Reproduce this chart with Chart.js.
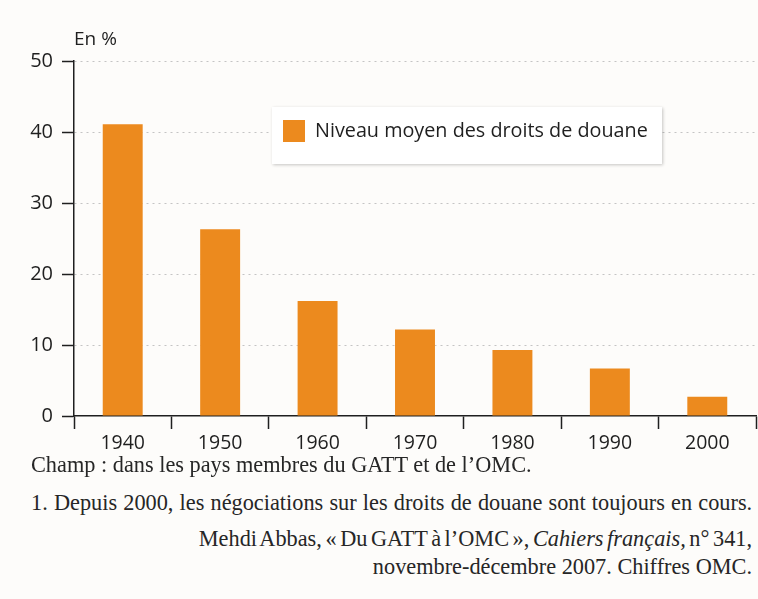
<!DOCTYPE html>
<html lang="fr">
<head>
<meta charset="utf-8">
<title>Niveau moyen des droits de douane</title>
<script src="https://cdn.jsdelivr.net/npm/chart.js@4/dist/chart.umd.min.js"></script>
<style>
    body {
        margin: 0;
        background: #fdfcfa;
        width: 758px;
        height: 599px;
        position: relative;
        overflow: hidden;
    }
    .chart-box {
        position: absolute;
        left: 0;
        top: 0;
        width: 758px;
        height: 458px;
    }
    .note {
        position: absolute;
        font-family: "Liberation Serif", "DejaVu Serif", serif;
        font-size: 22.3px;
        line-height: 24px;
        color: #262626;
        white-space: nowrap;
    }
    .left { left: 31px; }
    .right { right: 6px; text-align: right; }
</style>
</head>
<body>
<div class="chart-box"><canvas id="tarifChart"></canvas></div>

<div class="note left" style="top:453px">Champ : dans les pays membres du GATT et de l’OMC.</div>
<div class="note left" style="top:491px; word-spacing:0.6px">1. Depuis 2000, les négociations sur les droits de douane sont toujours en cours.</div>
<div class="note right" style="top:527px; word-spacing:-2px">Mehdi Abbas, « Du GATT à l’OMC », <i>Cahiers français,</i> n° 341,</div>
<div class="note right" style="top:555px">novembre-décembre 2007. Chiffres OMC.</div>

<script>
// data
const years = ['1940', '1950', '1960', '1970', '1980', '1990', '2000'];
const tariffs = [41.1, 26.3, 16.2, 12.2, 9.3, 6.7, 2.7];
const yTicks = [0, 10, 20, 30, 40, 50];
const seriesLabel = 'Niveau moyen des droits de douane';
const unitLabel = 'En %';

const orange = '#ec8a1e';
const axisColor = '#1f1f1f';

// draws the "En %" label and the boxed legend inside the plot
const extras = {
    id: 'extras',
    afterDatasetsDraw(chart) {
        const ctx = chart.ctx;
        const area = chart.chartArea;
        ctx.save();

        // unit label above the y axis
        ctx.font = '19px "Open Sans"';
        ctx.fillStyle = axisColor;
        ctx.textBaseline = 'alphabetic';
        ctx.fillText(unitLabel, area.left, area.top - 16);

        // legend box
        const bx = area.left + 198, by = area.top + 46, bw = 390, bh = 57;
        ctx.shadowColor = 'rgba(0,0,0,0.22)';
        ctx.shadowBlur = 3;
        ctx.shadowOffsetX = 1;
        ctx.shadowOffsetY = 1;
        ctx.fillStyle = '#ffffff';
        ctx.fillRect(bx, by, bw, bh);
        ctx.shadowColor = 'transparent';

        ctx.fillStyle = orange;
        ctx.fillRect(bx + 11, by + 13, 22, 22);

        ctx.font = '19.8px "Open Sans"';
        ctx.fillStyle = axisColor;
        ctx.textBaseline = 'middle';
        ctx.fillText(seriesLabel, bx + 43, by + 24);
        ctx.restore();
    }
};

new Chart(document.getElementById('tarifChart'), {
    type: 'bar',
    data: {
        labels: years,
        datasets: [{
            label: seriesLabel,
            data: tariffs,
            backgroundColor: orange,
            borderWidth: 0,
            categoryPercentage: 1,
            barPercentage: 0.41
        }]
    },
    options: {
        responsive: true,
        maintainAspectRatio: false,
        animation: false,
        layout: { padding: { left: 0, top: 61, right: 2, bottom: 0 } },
        plugins: {
            legend: { display: false },
            tooltip: { enabled: false }
        },
        scales: {
            x: {
                afterFit: scale => { scale.height = 42; },
                grid: {
                    drawOnChartArea: false,
                    drawTicks: true,
                    tickLength: 13,
                    tickColor: axisColor,
                    tickWidth: 1.5
                },
                border: { color: axisColor, width: 1.5 },
                ticks: {
                    padding: 3,
                    color: axisColor,
                    font: { family: 'Open Sans', size: 19.5 }
                }
            },
            y: {
                min: 0,
                max: 50,
                afterFit: scale => { scale.width = 74; },
                afterBuildTicks: scale => { scale.ticks = yTicks.map(v => ({ value: v })); },
                grid: {
                    color: c => (c.tick && c.tick.value === 0) ? 'rgba(0,0,0,0)' : '#c4c4c4',
                    lineWidth: 1,
                    tickLength: 12,
                    tickColor: axisColor,
                    tickWidth: 1.5
                },
                border: { color: axisColor, width: 1.5, dash: [2, 4] },
                ticks: {
                    padding: 9,
                    color: axisColor,
                    font: { family: 'Open Sans', size: 20 }
                }
            }
        }
    },
    plugins: [extras]
});
</script>
</body>
</html>
